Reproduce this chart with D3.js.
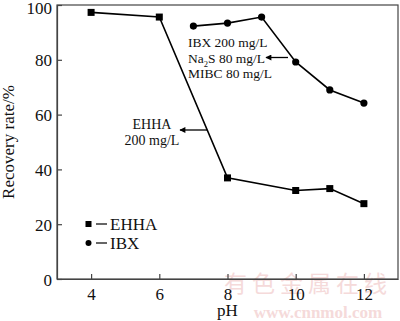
<!DOCTYPE html>
<html>
<head>
<meta charset="utf-8">
<script src="https://cdn.jsdelivr.net/npm/d3@7"></script>
<style>
  body { margin: 0; background: #fff; }
  svg, svg text { font-family: "Liberation Serif", "DejaVu Serif", serif; }
</style>
</head>
<body>
<div id="target_div"></div>
<script>
// data
var ehha_ph = [4, 6, 8, 10, 11, 12];
var ehha_rec = [97.3, 95.6, 36.9, 32.3, 33.0, 27.5];
var ibx_ph = [7, 8, 9, 10, 11, 12];
var ibx_rec = [92.3, 93.4, 95.6, 79.2, 69.0, 64.2];
var x_ticks = [4, 6, 8, 10, 12];
var y_ticks = [0, 20, 40, 60, 80, 100];

var W = 400, H = 321;
var plot = {left: 57, right: 398, top: 5, bottom: 279};
var serif = '"Liberation Serif", "DejaVu Serif", serif';

var svg = d3.select('#target_div').append('svg')
  .attr('width', W).attr('height', H);

var mapX = d3.scaleLinear().domain([3, 13]).range([plot.left, plot.right]);
var mapY = d3.scaleLinear().domain([0, 100]).range([plot.bottom, plot.top]);

// watermark
svg.append('text').text('有色金属在线')
  .attr('x', 308).attr('y', 292)
  .attr('text-anchor', 'middle')
  .style('font-family', '"Noto Sans CJK SC", sans-serif')
  .style('font-size', '23px')
  .style('letter-spacing', '5px')
  .style('fill', '#f5dada');
svg.append('text').text('www.cnnmol.com')
  .attr('x', 318).attr('y', 318)
  .attr('text-anchor', 'middle')
  .style('font-family', serif)
  .style('font-size', '17px')
  .style('font-weight', 'bold')
  .style('fill', '#f5dada');

// frame
svg.append('rect')
  .attr('x', plot.left).attr('y', plot.top)
  .attr('width', plot.right - plot.left).attr('height', plot.bottom - plot.top)
  .style('fill', 'none').style('stroke', '#444').style('stroke-width', 1.2);

var xAxis = d3.axisBottom(mapX).tickValues(x_ticks).tickSizeInner(-5).tickSizeOuter(0).tickPadding(9);
var yAxis = d3.axisLeft(mapY).tickValues(y_ticks).tickSizeInner(-5).tickSizeOuter(0).tickPadding(5);

var gx = svg.append('g').attr('transform', `translate(0, ${plot.bottom})`).call(xAxis);
var gy = svg.append('g').attr('transform', `translate(${plot.left}, 0)`).call(yAxis);
[gx, gy].forEach(function (g) {
  g.attr('font-family', null).attr('font-size', null);
  g.select('.domain').style('stroke', '#444').style('stroke-width', 1.2);
  g.selectAll('.tick line').style('stroke', '#444').style('stroke-width', 1.2);
  g.selectAll('.tick text')
    .style('font-family', serif)
    .style('font-size', '17px').style('fill', '#111');
});
gy.selectAll('.tick text').attr('dy', '0.36em');
gy.selectAll('.tick').filter(d => d === 100).select('text').attr('dy', '0.5em');

// axis titles
svg.append('text').text('pH')
  .attr('x', mapX(8)).attr('y', 316)
  .attr('text-anchor', 'middle')
  .style('font-family', serif)
  .style('font-size', '17px').style('fill', '#111');
svg.append('text').text('Recovery rate/%')
  .attr('transform', `translate(14, ${(plot.top + plot.bottom) / 2}) rotate(-90)`)
  .attr('text-anchor', 'middle')
  .style('font-family', serif)
  .style('font-size', '17px').style('fill', '#111');

var lineGen = d3.line()
  .x(d => mapX(d[0]))
  .y(d => mapY(d[1]));

var ehha = ehha_ph.map((p, i) => [p, ehha_rec[i]]);
var ibx = ibx_ph.map((p, i) => [p, ibx_rec[i]]);

svg.append('path').attr('d', lineGen(ehha))
  .style('fill', 'none').style('stroke', '#000').style('stroke-width', 1.6);
svg.append('path').attr('d', lineGen(ibx))
  .style('fill', 'none').style('stroke', '#000').style('stroke-width', 1.6);

var sq = 7;
svg.selectAll('rect.ehha').data(ehha).enter().append('rect')
  .attr('class', 'ehha')
  .attr('x', d => mapX(d[0]) - sq / 2).attr('y', d => mapY(d[1]) - sq / 2)
  .attr('width', sq).attr('height', sq)
  .style('fill', '#000');
svg.selectAll('circle.ibx').data(ibx).enter().append('circle')
  .attr('class', 'ibx')
  .attr('cx', d => mapX(d[0])).attr('cy', d => mapY(d[1]))
  .attr('r', 3.6)
  .style('fill', '#000');

// arrow marker (tip at the end of the line)
svg.append('defs').append('marker')
  .attr('id', 'arr').attr('viewBox', '0 0 10 10')
  .attr('refX', 9).attr('refY', 5)
  .attr('markerWidth', 10).attr('markerHeight', 6)
  .attr('markerUnits', 'userSpaceOnUse')
  .attr('orient', 'auto')
  .append('path').attr('d', 'M0,0 L10,5 L0,10 Z').style('fill', '#000');

// IBX annotation
var ibx_lines = ['IBX 200 mg/L', 'Na2S 80 mg/L', 'MIBC 80 mg/L'];
var ibx_note = svg.append('g');
ibx_lines.forEach(function (t, i) {
  var txt = ibx_note.append('text')
    .attr('x', 188).attr('y', 47 + i * 15.5)
    .style('font-family', serif)
    .style('font-size', '13.5px').style('fill', '#111');
  if (t.indexOf('Na2S') === 0) {
    txt.append('tspan').text('Na');
    txt.append('tspan').text('2').attr('dy', 4).style('font-size', '8.5px');
    txt.append('tspan').text('S 80 mg/L').attr('dy', -4);
  } else {
    txt.text(t);
  }
});
svg.append('line')
  .attr('x1', 288).attr('y1', 57.5).attr('x2', 266).attr('y2', 57.5)
  .attr('marker-end', 'url(#arr)')
  .style('stroke', '#000').style('stroke-width', 1.3);

// EHHA annotation
svg.append('text').text('EHHA')
  .attr('x', 152).attr('y', 129).attr('text-anchor', 'middle')
  .style('font-family', serif)
  .style('font-size', '14px').style('fill', '#111');
svg.append('text').text('200 mg/L')
  .attr('x', 152).attr('y', 145).attr('text-anchor', 'middle')
  .style('font-family', serif)
  .style('font-size', '14px').style('fill', '#111');
svg.append('line')
  .attr('x1', 207).attr('y1', 130).attr('x2', 180).attr('y2', 130)
  .attr('marker-end', 'url(#arr)')
  .style('stroke', '#000').style('stroke-width', 1.3);

// legend
var legend = svg.append('g');
legend.append('rect').attr('x', 85.5).attr('y', 221).attr('width', 6).attr('height', 6).style('fill', '#000');
legend.append('line').attr('x1', 96).attr('x2', 107).attr('y1', 224).attr('y2', 224)
  .style('stroke', '#000').style('stroke-width', 1.2);
legend.append('text').text('EHHA').attr('x', 110).attr('y', 230)
  .style('font-family', serif)
  .style('font-size', '17px').style('fill', '#111');
legend.append('circle').attr('cx', 88.5).attr('cy', 243).attr('r', 3).style('fill', '#000');
legend.append('line').attr('x1', 96).attr('x2', 107).attr('y1', 243).attr('y2', 243)
  .style('stroke', '#000').style('stroke-width', 1.2);
legend.append('text').text('IBX').attr('x', 110).attr('y', 249)
  .style('font-family', serif)
  .style('font-size', '17px').style('fill', '#111');
</script>
</body>
</html>
